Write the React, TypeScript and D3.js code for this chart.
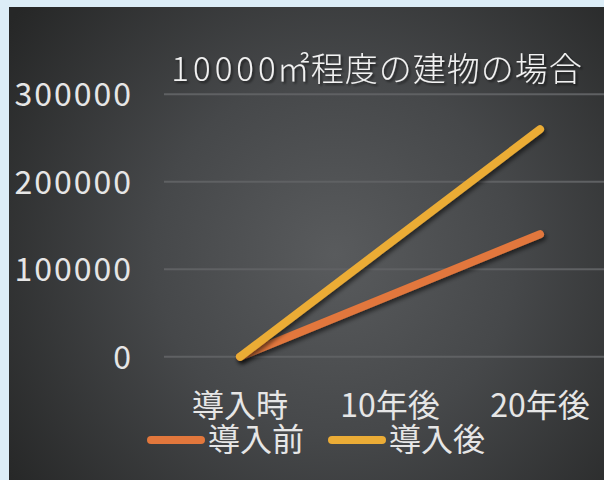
import * as React from 'react';
import * as d3 from 'd3';

const categories = ['導入時', '10年後', '20年後'];
const beforeValues = [0, 70000, 140000];
const afterValues = [0, 130000, 260000];
const yTicks = [0, 100000, 200000, 300000];
const seriesNames = ['導入前', '導入後'];
const seriesColors = ['#e2773c', '#ebac36'];
const titleNum = '10000';
const titleRest = '㎡程度の建物の場合';

const W = 604;
const H = 480;
const font = '"Noto Sans CJK JP", "Noto Sans", sans-serif';

const App = () => {
  const x = d3.scalePoint<string>().domain(categories).range([165, 615]).padding(0.5);
  const y = d3.scaleLinear().domain([0, 300000]).range([356.7, 94.2]);

  const line = d3.line<number>()
    .x((_, i) => x(categories[i]) as number)
    .y(d => y(d));

  const series = [beforeValues, afterValues];

  // legend placement
  const legendX = 151;
  const legendStep = 181;

  return (
    <div style={{position: 'absolute', left: 0, top: 0}}>
      <svg width={W} height={H} style={{display: 'block'}}>
        <defs>
          <radialGradient id="bg" gradientUnits="userSpaceOnUse" cx={335} cy={255} r={400}>
            <stop offset="0" stopColor="#595b5d"/>
            <stop offset="0.45" stopColor="#46484a"/>
            <stop offset="1" stopColor="#262727"/>
          </radialGradient>
          <filter id="shadow" x="-20%" y="-20%" width="140%" height="140%">
            <feDropShadow dx="2" dy="3" stdDeviation="2" floodColor="#000" floodOpacity="0.55"/>
          </filter>
          <filter id="tshadow" x="-10%" y="-30%" width="120%" height="160%">
            <feDropShadow dx="2" dy="2" stdDeviation="1.2" floodColor="#000" floodOpacity="0.5"/>
          </filter>
        </defs>

        <rect width={W} height={H} fill="#dcedf7"/>
        <rect x={9} y={7} width={W - 9} height={H - 7} fill="url(#bg)"/>

        {/* gridlines */}
        {yTicks.map(t => (
          <line key={t} x1={164} x2={W} y1={y(t)} y2={y(t)} stroke="#5f6163" strokeWidth={2}/>
        ))}

        {/* y axis labels */}
        {yTicks.map(t => (
          <text key={t} x={133} y={y(t) + 12} textAnchor="end" fontFamily={font} fontSize={32}
                letterSpacing={2} fill="#e6e6e6">{t}</text>
        ))}

        {/* category labels */}
        {categories.map(c => (
          <text key={c} x={x(c)} y={417} textAnchor="middle" fontFamily={font} fontSize={32}
                fill="#e6e6e6">{c}</text>
        ))}

        {/* lines */}
        {series.map((s, i) => (
          <path key={i} d={line(s) || ''} fill="none" stroke={seriesColors[i]} strokeWidth={8}
                strokeLinecap="round" strokeLinejoin="round" filter="url(#shadow)"/>
        ))}

        {/* title */}
        <text x={377} y={81} textAnchor="middle" fontFamily={font} fontSize={33} fontWeight={300}
              fill="#f2f2f2" filter="url(#tshadow)">
          <tspan letterSpacing={4}>{titleNum.slice(0, -1)}</tspan>
          <tspan letterSpacing={1}>{titleNum.slice(-1) + titleRest}</tspan>
        </text>

        {/* legend */}
        {seriesNames.map((n, i) => (
          <g key={n} transform={`translate(${legendX + i * legendStep},440)`}>
            <line x1={0} x2={50} y1={0} y2={0} stroke={seriesColors[i]} strokeWidth={8} strokeLinecap="round"/>
            <text x={57} y={11} fontFamily={font} fontSize={32} fill="#e6e6e6">{n}</text>
          </g>
        ))}
      </svg>
    </div>
  );
};

export default App;
